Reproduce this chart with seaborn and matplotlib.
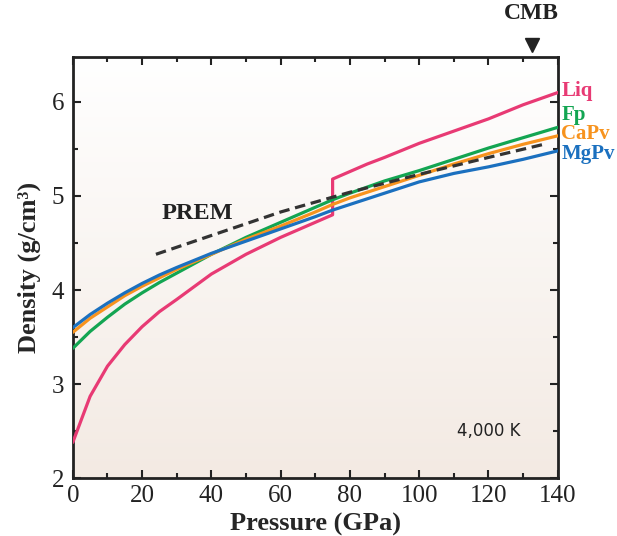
import numpy as np
import pandas as pd
import matplotlib
matplotlib.use("Agg")
import matplotlib.pyplot as plt
import seaborn as sns

# ---------------------------------------------------------------
# Data, density in g/cm3 vs GPa
# ---------------------------------------------------------------
liq_p = [0, 5, 10, 15, 20, 25, 30, 40, 50, 60, 70, 75, 75, 80, 85, 90, 100, 110, 120, 130, 140]
liq_rho = [2.38, 2.87, 3.19, 3.42, 3.61, 3.77, 3.90, 4.17, 4.38, 4.56, 4.72, 4.80,
           5.18, 5.26, 5.34, 5.41, 5.56, 5.69, 5.82, 5.97, 6.10]

fp_p = [0, 5, 10, 15, 20, 25, 30, 35, 40, 50, 60, 70, 75, 80, 90, 100, 110, 120, 130, 140]
fp_rho = [3.38, 3.56, 3.71, 3.85, 3.97, 4.08, 4.18, 4.28, 4.38, 4.56, 4.72, 4.88, 4.96,
          5.03, 5.16, 5.27, 5.39, 5.51, 5.62, 5.73]

capv_p = [0, 5, 10, 15, 20, 25, 30, 40, 50, 60, 70, 75, 80, 90, 100, 110, 120, 130, 140]
capv_rho = [3.55, 3.70, 3.82, 3.94, 4.04, 4.13, 4.22, 4.38, 4.54, 4.68, 4.83, 4.91,
            4.98, 5.10, 5.22, 5.34, 5.45, 5.55, 5.64]

mgpv_p = [0, 5, 10, 15, 20, 25, 30, 40, 50, 60, 70, 75, 80, 90, 100, 110, 120, 130, 140]
mgpv_rho = [3.60, 3.74, 3.86, 3.97, 4.07, 4.16, 4.24, 4.39, 4.52, 4.65, 4.78, 4.85,
            4.91, 5.03, 5.15, 5.24, 5.31, 5.39, 5.48]

prem_p = [24, 40, 60, 80, 100, 120, 136]
prem_rho = [4.38, 4.58, 4.83, 5.04, 5.23, 5.41, 5.55]

phases = ["Liq", "Fp", "CaPv", "MgPv"]
colors = {"Liq": "#e83a74", "Fp": "#13a552", "CaPv": "#f7931e", "MgPv": "#1b70bf"}
label_y = {"Liq": 6.12, "Fp": 5.86, "CaPv": 5.655, "MgPv": 5.445}

df = pd.concat([
    pd.DataFrame({"P": liq_p, "rho": liq_rho, "phase": "Liq"}),
    pd.DataFrame({"P": fp_p, "rho": fp_rho, "phase": "Fp"}),
    pd.DataFrame({"P": capv_p, "rho": capv_rho, "phase": "CaPv"}),
    pd.DataFrame({"P": mgpv_p, "rho": mgpv_rho, "phase": "MgPv"}),
], ignore_index=True)
prem = pd.DataFrame({"P": prem_p, "rho": prem_rho})

# ---------------------------------------------------------------
# Style
# ---------------------------------------------------------------
sns.set_style("ticks")
plt.rcParams["font.family"] = ["Liberation Serif", "DejaVu Serif"]
plt.rcParams["xtick.direction"] = "in"
plt.rcParams["ytick.direction"] = "in"

fig = plt.figure(figsize=(6.17, 5.36), dpi=100)
ax = fig.add_axes([0.118, 0.108, 0.786, 0.786])

xmin, xmax, ymin, ymax = 0, 140, 2, 6.48

# background gradient (white at top -> light beige at bottom)
grad = np.linspace(0, 1, 256).reshape(-1, 1)
top_c = np.array([1.0, 1.0, 1.0])
bot_c = np.array([0.953, 0.918, 0.890])
img = top_c * (1 - grad[..., None]) + bot_c * grad[..., None]
ax.imshow(img, extent=[xmin, xmax, ymin, ymax], aspect="auto", origin="upper", zorder=0)

sns.lineplot(data=df, x="P", y="rho", hue="phase", palette=colors, hue_order=phases,
             estimator=None, sort=False, legend=False, linewidth=2.3, ax=ax, zorder=3)
sns.lineplot(data=prem, x="P", y="rho", color="#333333", linewidth=2.3, estimator=None,
             ax=ax, zorder=4)
ax.lines[-1].set_dashes([3.3, 1.8])

ax.set_xlim(xmin, xmax)
ax.set_ylim(ymin, ymax)
ax.set_xticks(np.arange(0, 141, 20))
ax.set_xticks(np.arange(0, 141, 10), minor=True)
ax.set_yticks([2, 3, 4, 5, 6])
ax.set_yticks(np.arange(2, 6.5, 0.5), minor=True)
ax.tick_params(which="both", top=True, right=True, width=1.5, labelsize=18, colors="#222222")
ax.tick_params(which="major", length=6)
ax.tick_params(axis="x", which="major", pad=5)
ax.tick_params(axis="y", which="major", pad=6)
ax.tick_params(which="minor", length=3.5)
for s in ax.spines.values():
    s.set_linewidth(2)
    s.set_color("#222222")

ax.set_xlabel("Pressure (GPa)", fontsize=19, fontweight="bold", labelpad=4)
ax.set_ylabel("Density (g/cm³)", fontsize=19, fontweight="bold", labelpad=8)

# series labels on the right
for ph in phases:
    ax.text(141.0, label_y[ph], ph, color=colors[ph], fontsize=15, fontweight="bold",
            va="center", ha="left", clip_on=False)

ax.text(25.5, 4.81, "PREM", fontsize=17.5, fontweight="bold", color="#222222", va="center")
ax.text(111, 2.5, "4,000 K", fontsize=12, family="DejaVu Sans", color="#222222", va="center")

# CMB marker
ax.plot([132.5], [6.61], marker="v", markersize=10, color="#222222", clip_on=False)
ax.text(132.5, 6.94, "CMB", fontsize=17, fontweight="bold", ha="center", va="center",
        color="#222222", clip_on=False)

fig.savefig("out.png", dpi=100)
